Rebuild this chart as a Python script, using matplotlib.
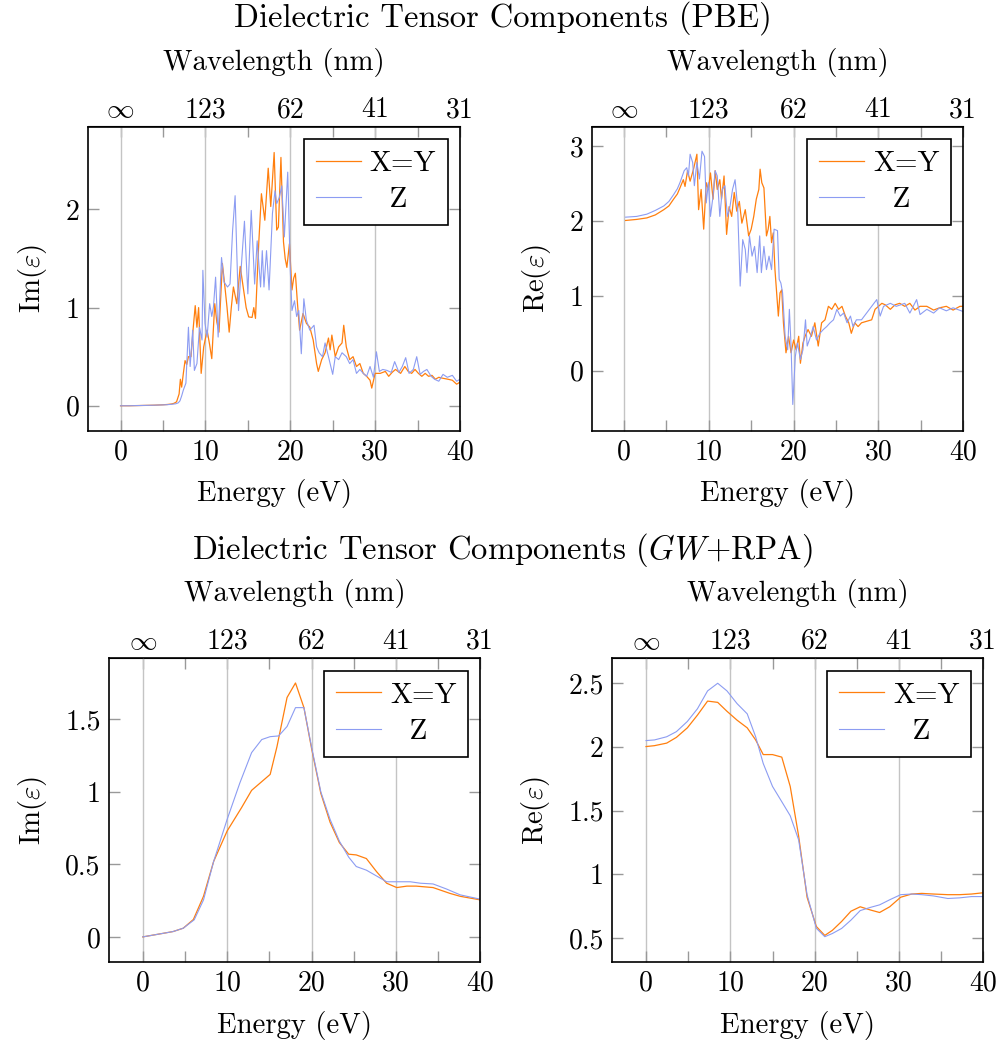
import numpy as np
import matplotlib.pyplot as plt

plt.rcParams['font.family'] = 'cmr10'
plt.rcParams['mathtext.fontset'] = 'cm'
plt.rcParams['axes.unicode_minus'] = False
plt.rcParams['axes.formatter.use_mathtext'] = True

# --- PBE, imaginary part ---
pbe_im_xy_E = [0, 1, 2, 3, 4, 5, 5.5, 6.0, 6.3, 6.6,
               6.9, 7.05, 7.2, 7.4, 7.6, 7.8, 8.0, 8.3, 8.55, 8.8,
               9.0, 9.2, 9.5, 9.8, 10.2, 10.5, 10.75, 11.1, 11.35, 11.6,
               12.0, 12.3, 12.55, 12.8, 13.05, 13.3, 13.7, 14.1, 14.5, 14.8,
               15.1, 15.5, 15.7, 15.9, 16.1, 16.3, 16.6, 17.0, 17.4, 17.7,
               17.9, 18.1, 18.4, 18.6, 18.9, 19.2, 19.4, 19.6, 19.9, 20.2,
               20.4, 20.6, 20.85, 21.1, 21.5, 21.9, 22.3, 22.7, 23.1, 23.3,
               23.7, 24.1, 24.5, 24.7, 24.9, 25.3, 25.7, 26.1, 26.3, 26.6,
               27.0, 27.4, 27.8, 28.2, 28.6, 29.0, 29.4, 29.6, 30.0, 30.6,
               31.2, 31.6, 32.0, 32.4, 33.0, 33.5, 33.9, 34.3, 34.7, 35.1,
               35.5, 35.9, 36.3, 36.7, 37.1, 37.5, 38.0, 38.6, 39.1, 39.6,
               40.0]
pbe_im_xy = [0.0, 0.0, 0.002, 0.004, 0.006, 0.010, 0.013, 0.018, 0.025, 0.04,
             0.12, 0.27, 0.19, 0.33, 0.46, 0.42, 0.50, 0.50, 0.78, 1.02,
             0.80, 1.00, 0.33, 0.60, 0.77, 0.62, 0.48, 1.04, 0.85, 0.75,
             1.45, 1.21, 1.00, 0.75, 1.00, 1.21, 1.04, 1.42, 1.18, 1.00,
             0.905, 0.90, 1.00, 0.89, 1.30, 1.68, 2.16, 1.89, 2.42, 2.03,
             2.30, 2.58, 1.79, 1.82, 2.53, 1.67, 1.50, 1.41, 1.65, 1.18,
             1.30, 1.35, 1.04, 0.77, 0.94, 0.84, 0.80, 0.67, 0.43, 0.35,
             0.47, 0.54, 0.69, 0.57, 0.72, 0.50, 0.60, 0.64, 0.82, 0.60,
             0.47, 0.50, 0.40, 0.43, 0.33, 0.30, 0.26, 0.18, 0.33, 0.33,
             0.35, 0.30, 0.34, 0.37, 0.33, 0.40, 0.35, 0.33, 0.37, 0.33,
             0.30, 0.33, 0.30, 0.31, 0.27, 0.29, 0.28, 0.27, 0.26, 0.22,
             0.24]

pbe_im_z_E = [0, 1, 2, 3, 4, 5, 5.5, 6.0, 6.5, 6.8,
              7.0, 7.2, 7.4, 7.7, 8.0, 8.2, 8.5, 8.7, 9.0, 9.3,
              9.6, 9.7, 9.95, 10.2, 10.5, 10.75, 10.95, 11.2, 11.5, 11.9,
              12.2, 12.6, 12.9, 13.2, 13.5, 13.9, 14.3, 14.6, 15.0, 15.4,
              15.8, 16.1, 16.5, 16.7, 16.9, 17.2, 17.5, 17.9, 18.2, 18.4,
              18.7, 19.0, 19.3, 19.7, 20.0, 20.2, 20.5, 20.75, 21.0, 21.3,
              21.6, 21.9, 22.3, 22.8, 23.1, 23.4, 23.8, 24.1, 24.5, 25.0,
              25.3, 25.7, 26.1, 26.6, 27.0, 27.4, 27.8, 28.2, 28.6, 29.0,
              29.4, 29.8, 30.15, 30.5, 30.9, 31.4, 31.9, 32.3, 32.8, 33.2,
              33.6, 34.0, 34.5, 34.9, 35.3, 35.7, 36.1, 36.6, 37.0, 37.5,
              38.0, 38.5, 39.1, 39.6, 40.0]
pbe_im_z = [0.0, 0.0, 0.002, 0.004, 0.006, 0.009, 0.011, 0.015, 0.02, 0.03,
            0.05, 0.10, 0.16, 0.23, 0.80, 0.40, 0.77, 0.36, 0.43, 0.80,
            0.67, 1.38, 0.84, 0.70, 1.04, 0.91, 1.01, 1.31, 0.70, 1.51,
            1.26, 1.21, 1.24, 1.78, 2.14, 0.97, 1.51, 1.88, 1.14, 1.99,
            1.24, 1.68, 1.21, 1.58, 1.21, 1.58, 1.18, 1.96, 2.19, 2.06,
            2.12, 2.24, 1.72, 2.38, 1.38, 0.97, 1.07, 0.91, 0.97, 0.53,
            1.09, 0.87, 0.77, 0.82, 0.60, 0.54, 0.50, 0.64, 0.50, 0.32,
            0.50, 0.47, 0.54, 0.50, 0.43, 0.47, 0.33, 0.37, 0.33, 0.30,
            0.40, 0.29, 0.55, 0.35, 0.37, 0.36, 0.34, 0.45, 0.34, 0.40,
            0.49, 0.33, 0.37, 0.50, 0.32, 0.35, 0.37, 0.30, 0.27, 0.25,
            0.32, 0.29, 0.31, 0.25, 0.27]

# --- PBE, real part ---
pbe_re_xy_E = [0.2, 1.5, 2.7, 3.7, 4.7, 5.3, 5.85, 6.3, 6.6, 7.0,
               7.2, 7.5, 7.8, 8.2, 8.6, 8.8, 9.1, 9.4, 9.7, 9.95,
               10.2, 10.5, 10.75, 11.0, 11.3, 11.5, 11.8, 12.1, 12.4, 12.7,
               13.0, 13.3, 13.6, 13.9, 14.3, 14.7, 15.0, 15.3, 15.6, 15.9,
               16.05, 16.25, 16.5, 16.8, 17.0, 17.2, 17.4, 17.6, 17.8, 18.0,
               18.2, 18.4, 18.6, 18.8, 19.1, 19.4, 19.7, 20.0, 20.3, 20.6,
               20.8, 21.1, 21.35, 21.7, 22.1, 22.5, 22.9, 23.3, 23.7, 24.1,
               24.5, 24.9, 25.3, 25.7, 26.1, 26.5, 26.8, 27.2, 27.6, 28.0,
               28.6, 29.2, 29.6, 30.0, 30.4, 30.8, 31.4, 31.95, 32.5, 33.1,
               33.7, 34.3, 34.9, 35.7, 36.5, 37.2, 38.0, 38.8, 39.6, 40.0]
pbe_re_xy = [2.006, 2.02, 2.04, 2.08, 2.15, 2.20, 2.29, 2.36, 2.44, 2.55,
             2.46, 2.67, 2.53, 2.69, 2.89, 2.15, 2.42, 1.89, 2.51, 2.42,
             2.64, 2.29, 2.67, 2.42, 2.55, 2.29, 2.60, 1.82, 2.19, 2.06,
             2.38, 2.13, 2.26, 1.97, 2.15, 1.80, 1.89, 2.06, 2.29, 2.42,
             2.69, 2.51, 2.44, 1.80, 1.89, 2.06, 1.71, 1.84, 1.35, 1.04,
             0.73, 1.04, 1.08, 0.64, 0.24, 0.46, 0.24, 0.41, 0.28, 0.46,
             0.10, 0.37, 0.46, 0.55, 0.46, 0.64, 0.33, 0.64, 0.68, 0.86,
             0.82, 0.90, 0.82, 0.86, 0.73, 0.64, 0.50, 0.64, 0.59, 0.64,
             0.66, 0.68, 0.82, 0.86, 0.90, 0.88, 0.82, 0.88, 0.90, 0.86,
             0.90, 0.81, 0.86, 0.86, 0.81, 0.84, 0.86, 0.81, 0.86, 0.86]

pbe_re_z_E = [0.2, 1.5, 2.7, 3.7, 4.7, 5.3, 5.85, 6.3, 6.6, 7.1,
              7.4, 7.6, 7.8, 8.1, 8.3, 8.6, 8.9, 9.2, 9.5, 9.7,
              9.95, 10.2, 10.5, 10.75, 11.0, 11.3, 11.6, 11.9, 12.2, 12.5,
              12.8, 13.1, 13.4, 13.7, 14.0, 14.3, 14.5, 14.8, 15.1, 15.4,
              15.7, 16.0, 16.2, 16.5, 16.8, 17.1, 17.4, 17.7, 18.1, 18.3,
              18.5, 18.7, 19.0, 19.3, 19.5, 19.7, 19.9, 20.2, 20.45, 20.8,
              21.1, 21.4, 21.6, 22.0, 22.3, 22.7, 23.1, 23.5, 23.9, 24.3,
              24.7, 25.1, 25.5, 25.9, 26.3, 26.7, 27.0, 27.4, 28.0, 28.6,
              29.2, 29.8, 30.2, 30.6, 31.4, 32.1, 33.1, 33.7, 34.5, 34.9,
              35.7, 36.5, 37.2, 38.0, 38.8, 40.0]
pbe_re_z = [2.05, 2.06, 2.09, 2.14, 2.20, 2.26, 2.35, 2.43, 2.51, 2.67,
            2.71, 2.60, 2.89, 2.78, 2.47, 2.78, 2.56, 2.93, 2.86, 2.24,
            2.51, 2.06, 2.33, 2.67, 2.60, 2.06, 2.42, 2.47, 2.06, 2.19,
            2.42, 2.55, 2.19, 1.13, 1.75, 1.62, 1.31, 1.80, 1.53, 1.66,
            1.31, 1.80, 1.31, 1.66, 1.35, 1.53, 1.35, 1.89, 1.87, 1.22,
            1.17, 1.04, 0.46, 0.28, 0.82, 0.33, -0.45, 0.19, 0.37, 0.15,
            0.28, 0.68, 0.33, 0.46, 0.59, 0.41, 0.50, 0.55, 0.59, 0.64,
            0.68, 0.82, 0.73, 0.77, 0.64, 0.73, 0.59, 0.68, 0.68, 0.77,
            0.86, 0.95, 0.73, 0.86, 0.90, 0.86, 0.90, 0.77, 0.95, 0.75,
            0.82, 0.77, 0.84, 0.80, 0.84, 0.79]

# --- GW+RPA ---
gw_im_xy_E = [0, 2.45, 3.6, 4.8, 6.0, 7.2, 8.4, 10.0, 11.7, 12.9,
              13.9, 15.1, 15.9, 17.1, 18.1, 19.1, 20.0, 21.1, 22.2, 23.3,
              24.4, 25.3, 26.5, 27.7, 28.9, 30.1, 31.3, 32.4, 34.4, 36.4,
              37.6, 40.0]
gw_im_xy = [0.0, 0.025, 0.037, 0.06, 0.12, 0.28, 0.52, 0.73, 0.89, 1.01,
            1.06, 1.12, 1.31, 1.65, 1.75, 1.58, 1.30, 0.99, 0.79, 0.65,
            0.57, 0.565, 0.54, 0.45, 0.37, 0.34, 0.35, 0.35, 0.34, 0.30,
            0.28, 0.255]
gw_im_z_E = [0, 2.45, 3.6, 4.8, 6.1, 7.2, 8.4, 10.0, 11.5, 12.9,
             14.1, 15.1, 16.1, 17.1, 18.1, 19.1, 20.0, 21.1, 22.2, 23.3,
             24.4, 25.3, 26.5, 27.7, 28.9, 30.1, 31.7, 32.9, 34.4, 36.0,
             37.6, 40.0]
gw_im_z = [0.0, 0.025, 0.037, 0.06, 0.118, 0.255, 0.52, 0.81, 1.06, 1.27,
           1.36, 1.38, 1.385, 1.45, 1.58, 1.58, 1.31, 1.00, 0.81, 0.66,
           0.55, 0.485, 0.46, 0.42, 0.38, 0.38, 0.38, 0.37, 0.365, 0.33,
           0.29, 0.26]

gw_re_E = [0, 1.0, 2.45, 3.6, 4.9, 6.1, 7.3, 8.5, 9.6, 10.8,
           12.0, 13.0, 13.9, 15.0, 16.1, 17.1, 18.1, 19.1, 20.2, 21.2,
           22.1, 23.2, 24.3, 25.4, 26.6, 27.7, 28.9, 30.2, 31.5, 32.7,
           34.1, 35.8, 37.2, 38.6, 40.0]
gw_re_xy = [2.003, 2.01, 2.03, 2.075, 2.15, 2.25, 2.36, 2.35, 2.28, 2.21,
            2.15, 2.055, 1.94, 1.94, 1.92, 1.69, 1.30, 0.82, 0.59, 0.52,
            0.56, 0.63, 0.71, 0.745, 0.72, 0.70, 0.745, 0.82, 0.845, 0.85,
            0.845, 0.84, 0.84, 0.845, 0.855]
gw_re_z = [2.05, 2.055, 2.08, 2.12, 2.20, 2.30, 2.44, 2.50, 2.44, 2.34,
           2.26, 2.08, 1.87, 1.69, 1.57, 1.46, 1.27, 0.84, 0.576, 0.51,
           0.535, 0.575, 0.64, 0.715, 0.74, 0.76, 0.80, 0.84, 0.845, 0.84,
           0.83, 0.81, 0.815, 0.825, 0.825]

energy_ticks = [0, 10, 20, 30, 40]
wavelength_labels = [r'$\infty$', '123', '62', '41', '31']

orange = '#ff7f0e'
blue = '#8c9cf2'
fs_title = 23.5
fs_label = 20.7
fs_tick = 20

W, H = 1005, 1048
fig = plt.figure(figsize=(W / 100, H / 100), dpi=100)


def make_ax(left, right, top, bottom):
    return fig.add_axes([left / W, 1 - bottom / H, (right - left) / W, (bottom - top) / H])


def panel(ax, e1, y1, e2, y2, xlim, ylim, yticks, ylabels, ylabel):
    ax.plot(e1, y1, color=orange, lw=0.9, label='X=Y')
    ax.plot(e2, y2, color=blue, lw=0.8, label='  Z')
    ax.set_xlim(*xlim)
    ax.set_ylim(*ylim)
    ax.set_xticks(energy_ticks)
    ax.set_xticks([5, 15, 25, 35], minor=True)
    ax.set_xticklabels([str(t) for t in energy_ticks])
    ax.set_yticks(yticks)
    ax.set_yticklabels(ylabels)
    ax.tick_params(which='both', direction='in', length=8, width=1, color='#999999',
                   labelsize=fs_tick, pad=6, right=True)
    ax.grid(axis='x', which='major', color='#c4c4c4', lw=1)
    ax.set_axisbelow(True)
    for s in ax.spines.values():
        s.set_linewidth(1.2)
    ax.set_xlabel('Energy (eV)', fontsize=fs_label, labelpad=10)
    ax.set_ylabel(ylabel, fontsize=fs_label, labelpad=12)
    sec = ax.secondary_xaxis('top')
    sec.set_xticks(energy_ticks)
    sec.set_xticklabels(wavelength_labels)
    sec.set_xticks([5, 15, 25, 35], minor=True)
    sec.tick_params(which='both', direction='in', length=8, width=1, color='#999999',
                    labelsize=fs_tick, pad=2.5)
    sec.set_xlabel('Wavelength (nm)', fontsize=fs_label, labelpad=19.5)
    leg = ax.legend(loc='upper right', fontsize=21, frameon=True, fancybox=False,
                    framealpha=1, edgecolor='black', borderaxespad=0.42,
                    handlelength=1.55, handletextpad=0.3, labelspacing=0.35,
                    borderpad=0.4)
    leg.get_frame().set_linewidth(1.2)


ax1 = make_ax(88.3, 460, 126.5, 430.7)
panel(ax1, pbe_im_xy_E, pbe_im_xy, pbe_im_z_E, pbe_im_z, (-3.8, 40), (-0.254, 2.845),
      [0, 1, 2], ['0', '1', '2'], r'Im$(\varepsilon)$')

ax2 = make_ax(591.7, 963.3, 126.5, 430.7)
panel(ax2, pbe_re_xy_E, pbe_re_xy, pbe_re_z_E, pbe_re_z, (-3.8, 40), (-0.80, 3.26),
      [0, 1, 2, 3], ['0', '1', '2', '3'], r'Re$(\varepsilon)$')

ax3 = make_ax(109, 480.3, 658.3, 962.3)
panel(ax3, gw_im_xy_E, gw_im_xy, gw_im_z_E, gw_im_z, (-4.0, 40), (-0.175, 1.92),
      [0, 0.5, 1, 1.5], ['0', '0.5', '1', '1.5'], r'Im$(\varepsilon)$')

ax4 = make_ax(612.3, 983.3, 658.3, 962.3)
panel(ax4, gw_re_E, gw_re_xy, gw_re_E, gw_re_z, (-4.0, 40), (0.309, 2.696),
      [0.5, 1, 1.5, 2, 2.5], ['0.5', '1', '1.5', '2', '2.5'], r'Re$(\varepsilon)$')

fig.text(0.5, 1 - 18 / H, 'Dielectric Tensor Components (PBE)', ha='center', va='center', fontsize=fs_title)
fig.text(0.5, 1 - 550 / H, r'Dielectric Tensor Components ($GW$+RPA)', ha='center', va='center', fontsize=fs_title)

fig.savefig('out.png', dpi=100)
